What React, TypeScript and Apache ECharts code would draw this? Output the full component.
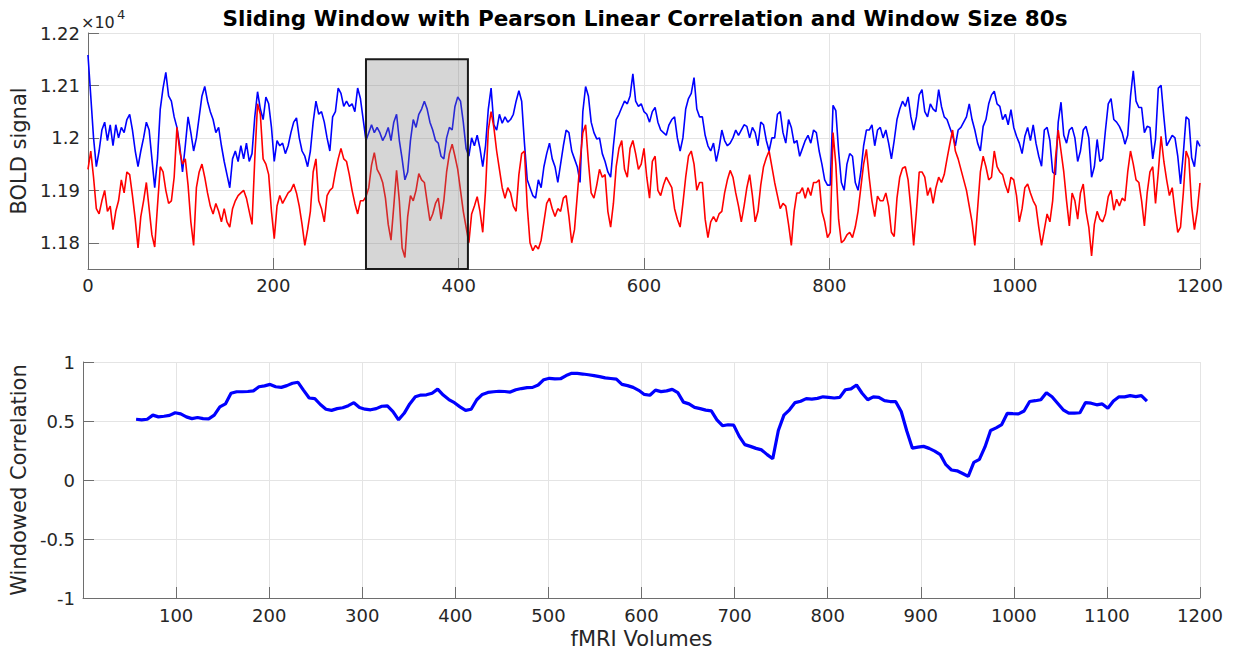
import React, { useEffect, useRef } from 'react';
import * as echarts from 'echarts';

// Volume spacing of the sampled BOLD traces (fMRI volumes)
const VOLUME_STEP = 3;

// ROI 1 BOLD signal (blue), volumes 0..1200 every 3
const blueSignal = [
  12158, 12080, 12000, 11945, 11975, 12015, 12030, 11995, 12025, 11985,
  12025, 12000, 12020, 12010, 12035, 12045, 12015, 11975, 11945, 11975,
  12000, 12030, 12015, 11960, 11905, 11960, 12055, 12095, 12125, 12080,
  12070, 12040, 12020, 11985, 11935, 11985, 12040, 12010, 11975, 12000,
  12040, 12080, 12098, 12070, 12050, 12035, 12010, 12020, 11985, 11955,
  11930, 11905, 11960, 11975, 11955, 11985, 11960, 11990, 11955, 11970,
  12040, 12088, 12055, 12035, 12078, 12065, 12020, 11955, 11995, 11985,
  11990, 11970, 11985, 12010, 12030, 12038, 12000, 11975, 11965, 11945,
  11975, 12030, 12070, 12045, 12050, 12030, 12000, 11975, 12040, 12050,
  12095, 12085, 12060, 12070, 12060, 12065, 12050, 12095, 12075, 12035,
  11995, 12010, 12025, 12010, 12020, 12010, 11995, 12005, 12020, 11995,
  12030, 12045, 11995, 11960, 11920, 11935, 11995, 12035, 12020, 12045,
  12055, 12070, 12055, 12030, 12015, 11995, 11990, 11965, 11960, 12000,
  12020, 12015, 12060, 12078, 12070, 12030, 11980, 11965, 12000, 11985,
  12005, 11980, 11945, 11985, 12055, 12095, 12025, 12015, 12045, 12028,
  12040, 12030, 12035, 12045, 12070, 12090, 12070, 11990, 11920, 11905,
  11890, 11885, 11920, 11905, 11945, 11970, 11990, 11960, 11945, 11915,
  11950, 11985, 12015, 12010, 11975, 11960, 11945, 11915, 12050, 12098,
  12080, 12030, 12010, 11998, 12000, 11970, 11955, 11935, 11925, 11985,
  12035, 12045, 12058, 12070, 12065, 12080, 12122, 12070, 12060, 12065,
  12050, 12045, 12030, 12050, 12058, 12030, 12015, 12010, 12005, 12025,
  12035, 12040, 12000, 11975, 12000, 12055, 12075, 12085, 12115, 12055,
  12040, 12040, 12005, 11985, 11975, 11990, 11955, 11980, 12015, 11995,
  11985, 11990, 12000, 12015, 12005, 12015, 12025, 12022, 12000, 12020,
  12010, 11985, 12030, 12025, 11995, 11975, 12000, 12000, 12045, 12050,
  12010, 11990, 12035, 12020, 11990, 11995, 11965, 11980, 11995, 12005,
  11990, 12015, 12010, 11975, 11950, 11920, 11910, 11910, 12062, 12052,
  11975, 11915, 11900, 11950, 11970, 11965, 11915, 11900, 11935, 11985,
  12015, 12015, 12025, 11985, 12015, 12020, 12000, 12015, 11990, 11960,
  11995, 12035, 12055, 12070, 12060, 12078, 12040, 12015, 12040, 12082,
  12092, 12050, 12040, 12065, 12055, 12050, 12092, 12060, 12040, 12035,
  12020, 12005, 11985, 12015, 12020, 12030, 12040, 12065, 12035, 12015,
  11990, 11975, 12022, 12035, 12065, 12082, 12089, 12065, 12060, 12035,
  12045, 12025, 12054, 12020, 12003, 11990, 11970, 12003, 12020, 11995,
  12025, 11990, 11965, 11946, 12015, 12020, 11995, 11935, 11930, 12030,
  12068, 12005, 11990, 12015, 12020, 12000, 11955, 11975, 12015, 12022,
  12000, 11925, 11945, 11997, 11955, 11960, 12015, 12065, 12075, 12035,
  12030, 12022, 12010, 11988, 12005, 12079, 12128, 12070, 12058, 12058,
  12010, 12022, 12020, 11960, 11997, 12095, 12100, 12040, 11985, 11995,
  12005, 12000, 11965, 11912, 11970, 12040, 12035, 11962, 11945, 11995,
  11984,
];

// ROI 2 BOLD signal (red), volumes 0..1200 every 3
const redSignal = [
  11940, 11975, 11925, 11865, 11855, 11880, 11900, 11860, 11870, 11825,
  11860, 11880, 11920, 11895, 11935, 11930, 11890, 11845, 11790, 11850,
  11880, 11915, 11865, 11815, 11792, 11870, 11945, 11935, 11900, 11875,
  11880, 11925, 12020, 11975, 11950, 11960, 11910, 11840, 11795, 11905,
  11935, 11950, 11925, 11895, 11870, 11855, 11875, 11860, 11840, 11865,
  11840, 11830, 11865, 11880, 11890, 11895, 11900, 11885, 11860, 11835,
  11960, 12065, 12045, 11960, 11950, 11930, 11860, 11808, 11870, 11890,
  11875, 11885, 11895, 11900, 11912, 11895, 11870, 11835, 11795, 11825,
  11860, 11935, 11960, 11880, 11865, 11840, 11890, 11900, 11905, 11935,
  11960, 11980, 11960, 11955, 11930, 11900, 11875, 11855, 11880, 11880,
  11888, 11905, 11948, 11972, 11940, 11930, 11915, 11885, 11835, 11805,
  11870, 11938, 11880, 11790, 11772, 11850, 11890, 11880, 11900, 11932,
  11920, 11915, 11878, 11842, 11855, 11875, 11885, 11845, 11880, 11935,
  11970, 11988, 11965, 11940, 11900, 11860, 11830, 11800, 11855, 11870,
  11888, 11860, 11820, 11900, 12015, 12050, 12020, 11975, 11940, 11905,
  11885, 11905, 11895, 11870, 11860, 11930, 11970, 11975, 11870, 11800,
  11785, 11795, 11788, 11805, 11840, 11875, 11885, 11865, 11850, 11865,
  11860, 11885, 11890, 11850, 11800, 11825, 11890, 11955, 12010, 12025,
  11955, 11895, 11885, 11910, 11940, 11925, 11930, 11860, 11830, 11875,
  11945, 11980, 11995, 11940, 11925, 11980, 11995, 11970, 11940, 11950,
  11980, 11925, 11885, 11955, 11965, 11900, 11890, 11910, 11925, 11915,
  11905, 11865, 11845, 11830, 11875, 11925, 11965, 11975, 11950, 11900,
  11915, 11915, 11845, 11810, 11840, 11850, 11840, 11855, 11860, 11895,
  11920, 11938, 11925, 11895, 11870, 11840, 11870, 11905, 11930, 11890,
  11840, 11860, 11910, 11945, 11962, 11975, 11945, 11915, 11890, 11865,
  11875, 11870, 11835, 11795, 11860, 11895, 11895, 11905, 11885, 11905,
  11890, 11915, 11915, 11920, 11860, 11840, 11810, 11820, 12010, 11950,
  11845, 11800, 11805, 11815, 11820, 11810, 11830, 11860, 11905, 11950,
  11978, 11925, 11880, 11850, 11889, 11880, 11880, 11895, 11870, 11820,
  11812, 11885, 11925, 11942, 11945, 11920, 11865, 11795, 11860, 11935,
  11935, 11925, 11890, 11905, 11875, 11905, 11925, 11915, 11930, 11960,
  11988, 12015, 11975, 11960, 11940, 11920, 11900, 11870, 11840, 11795,
  11865, 11935, 11965, 11945, 11920, 11925, 11975, 11945, 11935, 11930,
  11910, 11895, 11925, 11920, 11890, 11840, 11865, 11905, 11912, 11895,
  11880, 11870, 11830, 11795, 11825, 11855, 11840, 11880, 11960, 12015,
  11975, 11935, 11880, 11832, 11895, 11880, 11845, 11895, 11912, 11860,
  11830, 11775, 11835, 11860, 11845, 11840, 11855, 11888, 11900, 11862,
  11883, 11870, 11885, 11880, 11935, 11975, 11950, 11920, 11915, 11880,
  11832, 11895, 11935, 11945, 11875, 11935, 12003, 11955, 11920, 11890,
  11905, 11860, 11820, 11830, 11895, 11975, 11960, 11870, 11825, 11860,
  11914,
];

// Sliding-window Pearson correlation, window centres 57..1143 every 6 volumes
const CORR_START = 57;
const CORR_STEP = 6;
const windowedCorrelation = [
  0.515, 0.51, 0.515, 0.55, 0.535, 0.54, 0.548, 0.57, 0.56, 0.535,
  0.52, 0.53, 0.52, 0.518, 0.55, 0.62, 0.645, 0.735, 0.748, 0.748,
  0.75, 0.755, 0.79, 0.798, 0.81, 0.79, 0.785, 0.8, 0.82, 0.828,
  0.76, 0.695, 0.69, 0.64, 0.6, 0.59, 0.605, 0.612, 0.63, 0.655,
  0.614, 0.6, 0.595, 0.605, 0.625, 0.628, 0.58, 0.51, 0.565, 0.645,
  0.705, 0.72, 0.722, 0.735, 0.77, 0.72, 0.682, 0.655, 0.62, 0.59,
  0.6, 0.68, 0.725, 0.742, 0.748, 0.752, 0.75, 0.745, 0.765, 0.775,
  0.783, 0.785, 0.805, 0.85, 0.862, 0.857, 0.858, 0.885, 0.904, 0.903,
  0.898, 0.892, 0.885, 0.876, 0.865, 0.86, 0.855, 0.81, 0.8, 0.785,
  0.76, 0.725, 0.718, 0.762, 0.749, 0.755, 0.768, 0.74, 0.66, 0.645,
  0.615, 0.605, 0.592, 0.586, 0.51, 0.46, 0.468, 0.465, 0.37, 0.3,
  0.285, 0.268, 0.255, 0.215, 0.18, 0.42, 0.55, 0.595, 0.656, 0.668,
  0.69, 0.686, 0.692, 0.705, 0.7, 0.695, 0.7, 0.765, 0.772, 0.805,
  0.735, 0.68, 0.705, 0.7, 0.672, 0.665, 0.665, 0.58, 0.415, 0.27,
  0.278, 0.285, 0.268, 0.245, 0.215, 0.13, 0.085, 0.078, 0.055, 0.03,
  0.15, 0.175, 0.28, 0.42, 0.442, 0.47, 0.565, 0.562, 0.56, 0.585,
  0.665, 0.672, 0.68, 0.74, 0.705, 0.65, 0.595, 0.566, 0.566, 0.57,
  0.656, 0.651, 0.637, 0.645, 0.608, 0.67, 0.705, 0.704, 0.715, 0.707,
  0.715, 0.668,
];

// Highlighted analysis window: [start volume, end volume, bottom, top]
const analysisWindow = [300, 410, 11750, 12150];

// Tick values of the BOLD axis
const boldTicks = [11800, 11900, 12000, 12100, 12200];

const FONT = 'DejaVu Sans';
const TEXT = '#262626';
const AXIS = '#6e6e6e';
const GRID = '#e4e4e4';

const toPairs = (vals: number[], start: number, step: number) =>
  vals.map((v, i) => [start + i * step, v]);

const tickLabel = { color: TEXT, fontFamily: FONT, fontSize: 18 };
const axisLine = { show: true, onZero: false, lineStyle: { color: AXIS, width: 1 } };
const axisTick = { show: true, inside: true, length: 11, lineStyle: { color: AXIS, width: 1 } };
const splitLine = { show: true, lineStyle: { color: GRID, width: 1 } };
const nameStyle = { color: TEXT, fontFamily: FONT, fontSize: 21 };

export default function App() {
  const ref = useRef<HTMLDivElement>(null);

  useEffect(() => {
    if (!ref.current) return;
    const chart = echarts.init(ref.current, null, { renderer: 'svg' });

    chart.setOption({
      animation: false,
      backgroundColor: '#ffffff',
      title: {
        text: 'Sliding Window with Pearson Linear Correlation and Window Size 80s',
        left: 640,
        top: 2,
        textAlign: 'center',
        textStyle: { fontFamily: FONT, fontWeight: 'bold', fontSize: 21.5, color: '#000000' },
      },
      grid: [
        { left: 79, right: 34, top: 33, height: 236 },
        { left: 79, right: 34, top: 362, height: 236 },
      ],
      xAxis: [
        {
          gridIndex: 0,
          type: 'value',
          min: 0,
          max: 1200,
          interval: 200,
          axisLine,
          axisTick,
          splitLine,
          axisLabel: { ...tickLabel, margin: 7, formatter: (v: number) => String(v) },
        },
        {
          gridIndex: 1,
          type: 'value',
          min: 0,
          max: 1200,
          interval: 100,
          name: 'fMRI Volumes',
          nameLocation: 'middle',
          nameGap: 30,
          nameTextStyle: nameStyle,
          axisLine,
          axisTick,
          splitLine,
          axisLabel: {
            ...tickLabel,
            margin: 8,
            formatter: (v: number) => (v === 0 ? '' : String(v)),
          },
        },
      ],
      yAxis: [
        {
          gridIndex: 0,
          type: 'value',
          min: 11750,
          max: 12200,
          name: 'BOLD signal',
          nameLocation: 'middle',
          nameRotate: 90,
          nameGap: 52,
          nameTextStyle: nameStyle,
          axisLine,
          axisTick: { ...axisTick, customValues: boldTicks },
          splitLine,
          axisLabel: {
            ...tickLabel,
            margin: 8,
            customValues: boldTicks,
            formatter: (v: number) => String(Number((v / 10000).toFixed(2))),
          },
        },
        {
          gridIndex: 1,
          type: 'value',
          min: -1,
          max: 1,
          interval: 0.5,
          name: 'Windowed Correlation',
          nameLocation: 'middle',
          nameRotate: 90,
          nameGap: 51,
          nameTextStyle: nameStyle,
          axisLine,
          axisTick,
          splitLine,
          axisLabel: { ...tickLabel, margin: 8 },
        },
      ],
      series: [
        {
          type: 'line',
          xAxisIndex: 0,
          yAxisIndex: 0,
          data: toPairs(blueSignal, 0, VOLUME_STEP),
          showSymbol: false,
          symbol: 'none',
          lineStyle: { color: '#0000ff', width: 1.6 },
          z: 2,
        },
        {
          type: 'line',
          xAxisIndex: 0,
          yAxisIndex: 0,
          data: toPairs(redSignal, 0, VOLUME_STEP),
          showSymbol: false,
          symbol: 'none',
          lineStyle: { color: '#ff0000', width: 1.6 },
          z: 3,
        },
        {
          type: 'custom',
          xAxisIndex: 0,
          yAxisIndex: 0,
          encode: { x: [0, 1], y: [2, 3] },
          data: [analysisWindow],
          z: 5,
          silent: true,
          renderItem: (_params: any, api: any) => {
            const topLeft = api.coord([api.value(0), api.value(3)]);
            const bottomRight = api.coord([api.value(1), api.value(2)]);
            return {
              type: 'rect',
              shape: {
                x: topLeft[0],
                y: topLeft[1],
                width: bottomRight[0] - topLeft[0],
                height: bottomRight[1] - topLeft[1],
              },
              style: { fill: 'rgba(128,128,128,0.32)', stroke: '#1a1a1a', lineWidth: 2 },
            };
          },
        },
        {
          type: 'line',
          xAxisIndex: 1,
          yAxisIndex: 1,
          data: toPairs(windowedCorrelation, CORR_START, CORR_STEP),
          showSymbol: false,
          symbol: 'none',
          lineStyle: { color: '#0000ff', width: 3.2 },
          z: 2,
        },
      ],
      graphic: [
        {
          type: 'text',
          left: 81,
          top: 14,
          style: { text: '×10', fontFamily: FONT, fontSize: 16, fill: TEXT },
        },
        {
          type: 'text',
          left: 117,
          top: 8,
          style: { text: '4', fontFamily: FONT, fontSize: 13, fill: TEXT },
        },
      ],
    });

    return () => chart.dispose();
  }, []);

  return (
    <div
      ref={ref}
      style={{ position: 'fixed', left: 0, top: 0, width: 1234, height: 650 }}
    />
  );
}
